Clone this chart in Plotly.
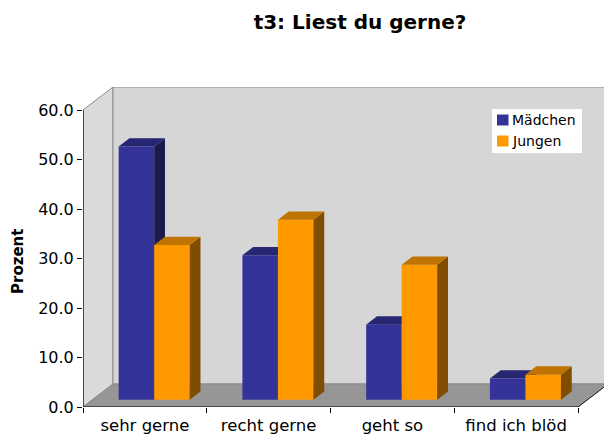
import plotly.graph_objects as go

# ---------------- data ----------------
categories = ["sehr gerne", "recht gerne", "geht so", "find ich blöd"]
maedchen = [51.2, 29.2, 15.2, 4.3]
jungen = [31.3, 36.4, 27.3, 5.1]
series_names = ["Mädchen", "Jungen"]
y_ticks = [0, 10, 20, 30, 40, 50, 60]
title_text = "t3: Liest du gerne?"
y_title = "Prozent"

# ---------------- style / geometry ----------------
W, H = 604, 434
ML, MR, MT = 83, 0, 87
MB = H - 407
PW, PH = W - ML - MR, H - MT - MB
N = len(categories)
YMAX = max(y_ticks)
PX_PER_X = 123.75
PX_PER_Y = 4.95
X_RANGE = [0, PW / PX_PER_X]
Y_RANGE = [0, PH / PX_PER_Y]
DX = 30 / PX_PER_X      # full depth shift, x units
DY = 23 / PX_PER_Y      # full depth shift, y units
Z0, Z1 = 0.31, 0.67     # bar depth (front, back) as fraction of the box depth
BW = 0.287              # bar width in category units

front_cols = ["#333399", "#ff9900"]
top_cols = ["#262673", "#bf7300"]
side_cols = ["#1a1a4d", "#804c00"]
FONT = "DejaVu Sans"

fig = go.Figure()

base = Z0 * DY
ddx, ddy = (Z1 - Z0) * DX, (Z1 - Z0) * DY
series = [maedchen, jungen]

for s, vals in enumerate(series):
    xa = "x" if s == 0 else "x2"
    ya = "y" if s == 0 else "y2"
    centers = [i + 0.5 + (s - 0.5) * BW + Z0 * DX for i in range(N)]
    fig.add_trace(go.Bar(
        x=centers, y=vals, base=base, width=BW, name=series_names[s],
        marker=dict(color=front_cols[s], line=dict(width=0)),
        xaxis=xa, yaxis=ya, showlegend=False,
    ))
    sx, sy, tx, ty = [], [], [], []
    for c, v in zip(centers, vals):
        xl, xr = c - BW / 2, c + BW / 2
        h = base + v
        # side face
        sx += [xr, xr, xr + ddx, xr + ddx, xr, None]
        sy += [base, h, h + ddy, base + ddy, base, None]
        # top face
        tx += [xl, xr, xr + ddx, xl + ddx, xl, None]
        ty += [h, h, h + ddy, h + ddy, h, None]
    fig.add_trace(go.Scatter(x=sx, y=sy, mode="lines", fill="toself",
                             fillcolor=side_cols[s], line=dict(width=0, color=side_cols[s]),
                             xaxis=xa, yaxis=ya, showlegend=False, hoverinfo="skip"))
    fig.add_trace(go.Scatter(x=tx, y=ty, mode="lines", fill="toself",
                             fillcolor=top_cols[s], line=dict(width=0, color=top_cols[s]),
                             xaxis=xa, yaxis=ya, showlegend=False, hoverinfo="skip"))

# ---------------- walls & floor ----------------
def path(pts):
    return "M " + " L ".join(f"{x},{y}" for x, y in pts) + " Z"

wall_line = dict(color="#8a8a8a", width=1)
shapes = [
    # left wall
    dict(type="path", path=path([(0, 0), (DX, DY), (DX, YMAX + DY), (0, YMAX)]),
         fillcolor="#dadada", line=wall_line, xref="x", yref="y", layer="below"),
    # back wall
    dict(type="path", path=path([(DX, DY), (N + DX, DY), (N + DX, YMAX + DY), (DX, YMAX + DY)]),
         fillcolor="#d6d6d6", line=wall_line, xref="x", yref="y", layer="below"),
    # floor
    dict(type="path", path=path([(0, 0), (DX, DY), (N + DX, DY), (N, 0)]),
         fillcolor="#969696", line=wall_line, xref="x", yref="y", layer="below"),
    # floor right edge
    dict(type="line", x0=N, y0=0, x1=N + DX, y1=DY, line=dict(color="#222", width=1),
         xref="x", yref="y", layer="below"),
    # axis lines
    dict(type="line", x0=0, y0=0, x1=N, y1=0, line=dict(color="black", width=1.2),
         xref="x", yref="y", layer="below"),
    dict(type="line", x0=0, y0=0, x1=0, y1=YMAX, line=dict(color="black", width=1.2),
         xref="x", yref="y", layer="below"),
]

# ---------------- custom legend ----------------
def xp(px):  # screen px -> paper
    return (px - ML) / PW

def yp(py):
    return (H - MB - py) / PH

shapes.append(dict(type="rect", xref="paper", yref="paper",
                   x0=xp(492), x1=xp(582), y0=yp(153), y1=yp(109),
                   fillcolor="white", line=dict(width=0), layer="above"))
annotations = []
for k, name in enumerate(series_names):
    cy = 120 + k * 21
    shapes.append(dict(type="rect", xref="paper", yref="paper",
                       x0=xp(497), x1=xp(508.5), y0=yp(cy + 5.5), y1=yp(cy - 5.5),
                       fillcolor=front_cols[k], line=dict(width=0), layer="above"))
    annotations.append(dict(text=name, xref="paper", yref="paper", x=xp(510), y=yp(cy),
                            xanchor="left", yanchor="middle", showarrow=False,
                            font=dict(family=FONT, size=14, color="black")))

annotations.append(dict(text=f"<b>{y_title}</b>", xref="paper", yref="paper",
                        x=xp(18), y=yp(262), textangle=-90, showarrow=False,
                        xanchor="center", yanchor="middle",
                        font=dict(family=FONT, size=15, color="black")))

fig.update_layout(
    width=W, height=H,
    margin=dict(l=ML, r=MR, t=MT, b=MB, autoexpand=False),
    paper_bgcolor="white", plot_bgcolor="white",
    barmode="overlay",
    showlegend=False,
    title=dict(text=f"<b>{title_text}</b>", xref="container", yref="container",
               x=360 / W, y=1 - 22 / H, xanchor="center", yanchor="middle",
               font=dict(family=FONT, size=20, color="black")),
    xaxis=dict(range=X_RANGE, showgrid=False, zeroline=False, showline=False,
               tickvals=[i + 0.5 for i in range(N)], ticktext=categories, ticks="",
               ticklabelstandoff=6,
               tickfont=dict(family=FONT, size=16.5, color="black"),
               minor=dict(tickvals=list(range(N + 1)), ticks="outside", ticklen=5,
                          tickcolor="black", tickwidth=1, showgrid=False),
               fixedrange=True, automargin=False),
    yaxis=dict(range=Y_RANGE, showgrid=False, zeroline=False, showline=False,
               tickvals=y_ticks, tickformat=".1f", ticks="outside", ticklen=5,
               tickcolor="black", tickfont=dict(family=FONT, size=16, color="black"),
               fixedrange=True, automargin=False),
    xaxis2=dict(range=X_RANGE, overlaying="x", anchor="y2", visible=False, fixedrange=True),
    yaxis2=dict(range=Y_RANGE, overlaying="y", anchor="x2", visible=False, fixedrange=True),
    shapes=shapes,
    annotations=annotations,
)

fig.write_html(
    "out.html",
    config={"displayModeBar": False},
    post_script="document.body.style.margin='0';document.body.style.overflow='hidden';",
)
